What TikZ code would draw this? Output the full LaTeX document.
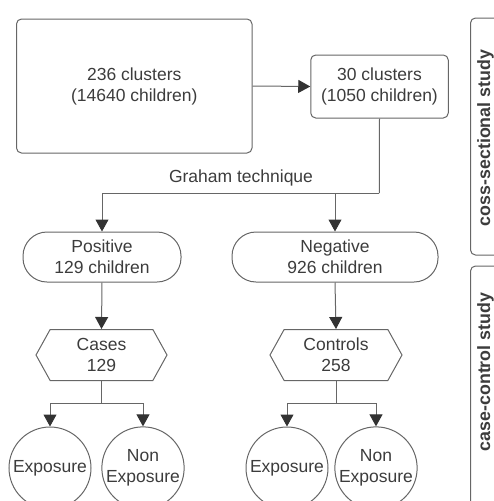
\documentclass[tikz,border=0pt]{standalone}
\usepackage{fontspec}
\setmainfont{Liberation Sans}
\usepackage{tikz}
\usetikzlibrary{shapes.symbols, arrows.meta, positioning}
\definecolor{inkgray}{HTML}{3c3c3c}
\definecolor{edgegray}{HTML}{666666}
\definecolor{tipgray}{HTML}{333333}

\tikzset{
	every node/.style={text=inkgray, font=\fontsize{17.5}{21}\selectfont, align=center},
	roundbox/.style={draw=edgegray, line width=1pt, rounded corners=5pt},
	pillbox/.style={draw=edgegray, line width=1pt, rounded corners=24pt, minimum height=50pt},
	hexbox/.style={draw=edgegray, line width=1pt, shape=signal, signal to=east and west,
		signal pointer angle=122, minimum height=51pt},
	ringbox/.style={draw=edgegray, line width=1pt, circle, minimum size=82pt, inner sep=0pt},
	link/.style={draw=edgegray, line width=1pt},
	arr/.style={link, -{Triangle[width=13pt, length=12pt, fill=tipgray, color=tipgray]}},
	sidelabel/.style={rotate=90, inner sep=0pt, anchor=base, font=\fontsize{17.8}{21}\selectfont\bfseries}
}

\begin{document}
\begin{tikzpicture}[x=1pt, y=-1pt]
	\useasboundingbox (0,0) rectangle (494,501);

	% cross-sectional part
	\node[roundbox, minimum width=235.5pt, minimum height=134pt] (all) at (134.25,86) {236 clusters\\(14640 children)};
	\node[roundbox, minimum width=137.5pt, minimum height=63pt] (sample) at (379.5,86.5) {30 clusters\\(1050 children)};
	\node[pillbox, minimum width=158pt] (pos) at (102,257) {Positive\\129 children};
	\node[pillbox, minimum width=206pt] (neg) at (335,257) {Negative\\926 children};
	\node (graham) at (241,178) {Graham technique};
	\coordinate (fork) at (379.25,193);

	% case-control part
	\node[hexbox, minimum width=131pt] (cases) at (101.5,355) {Cases\\129};
	\node[hexbox, minimum width=132pt] (controls) at (336,355) {Controls\\258};
	\node[ringbox] (casexp) at (50,468) {Exposure};
	\node[ringbox] (casnon) at (143,468) {Non\\Exposure};
	\node[ringbox] (conexp) at (287,468) {Exposure};
	\node[ringbox] (connon) at (376,468) {Non\\Exposure};

	\draw[arr] (all.east) -- (sample.west);
	\draw[link] (sample.south) -- (fork);
	\draw[arr] (fork) -| (pos.north);
	\draw[arr] (fork -| neg.north) -- (neg.north);
	\draw[arr] (pos.south) -- (cases.north);
	\draw[arr] (neg.south) -- (controls.north);

	\draw[link] (cases.south) -- ++(0,22) coordinate (casefork);
	\draw[arr] (casefork) -| (casexp.north);
	\draw[arr] (casefork) -| (casnon.north);
	\draw[link] (controls.south) -- ++(0,22) coordinate (confork);
	\draw[arr] (confork) -| (conexp.north);
	\draw[arr] (confork) -| (connon.north);

	% study brackets on the right
	\draw[roundbox] (470.5,18) rectangle (512,255);
	\node[sidelabel] (cross) at (490,138) {coss-sectional study};
	\draw[roundbox] (470.5,266) rectangle (512,530);
	\node[sidelabel] (casectl) at (490,372) {case-control study};
\end{tikzpicture}
\end{document}
